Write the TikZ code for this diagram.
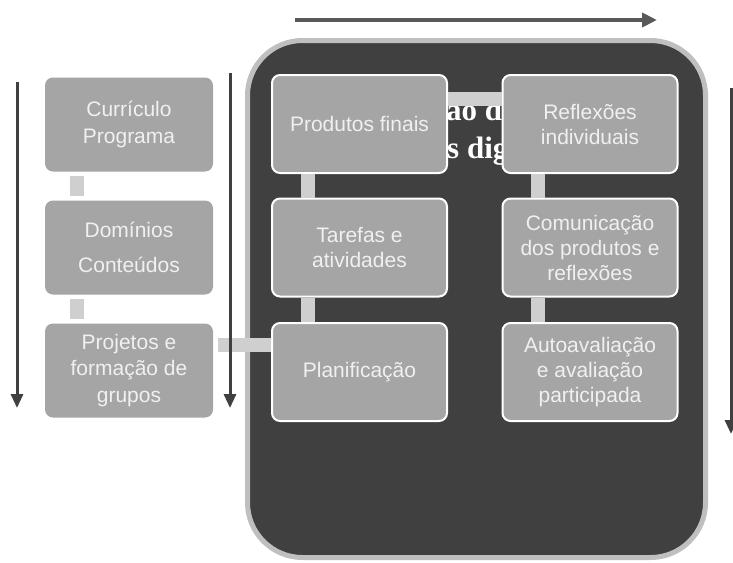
\documentclass[tikz,border=0pt]{standalone}
\usepackage{fontspec}
\setmainfont{Liberation Serif}
\setsansfont{Liberation Sans}
\usetikzlibrary{arrows.meta}

\definecolor{panel}{HTML}{404040}
\definecolor{panelrim}{HTML}{BFBFBF}
\definecolor{boxgray}{HTML}{A5A5A5}
\definecolor{linkgray}{HTML}{CFCFCF}
\definecolor{arrowdark}{HTML}{404040}
\definecolor{arrowmid}{HTML}{595959}

\begin{document}
\begin{tikzpicture}[x=1pt,y=-1pt,
  stage/.style={rectangle,rounded corners=8pt,fill=boxgray,draw=white,line width=2pt,
    minimum width=175pt,minimum height=98pt,inner sep=2pt,align=center,
    text=white!94!black,font=\sffamily\fontsize{21}{25}\selectfont},
  prep/.style={stage,draw=none,minimum width=168pt,minimum height=94pt,
    font=\sffamily\fontsize{21}{26.5}\selectfont},
  link/.style={draw=linkgray,line width=14pt},
  veil/.style={text=white,inner sep=0pt,font=\bfseries\fontsize{31}{36}\selectfont},
  flow/.style={draw=arrowdark,line width=3pt,-{Triangle[length=14pt,width=12pt]}}]
\useasboundingbox (0,0) rectangle (733,562);

% dark panel behind the project cycle
\draw[panelrim,fill=panel,line width=5pt,rounded corners=55pt] (247.5,40.5) rectangle (705.5,557.5);

% panel title, left visible between the top boxes
\node[veil,anchor=base west] (titleA) at (446,120) {ão d};
\node[veil,anchor=base west] (titleB) at (447,158) {s dig};

% preparation column
\node[prep] (curriculo) at (129,124.5) {Currículo\\Programa};
\node[prep] (dominios) at (129,247.5) {Domínios\\[9pt]Conteúdos};
\node[prep] (projetos) at (129,370.5) {Projetos e\\formação de\\grupos};

% project cycle
\node[stage] (produtos) at (359.5,124) {Produtos finais};
\node[stage] (tarefas) at (359.5,247.5) {Tarefas e\\atividades};
\node[stage] (planificacao) at (359.5,372) {Planificação};
\node[stage] (reflexoes) at (590,124) {Reflexões\\individuais};
\node[stage] (comunicacao) at (590,247.5) {Comunicação\\dos produtos e\\reflexões};
\node[stage] (autoavaliacao) at (590,372) {Autoavaliação\\e avaliação\\participada};

% links
\draw[link,shorten <=3pt,shorten >=4pt] ([xshift=-52pt]curriculo.south) -- ([xshift=-52pt]dominios.north);
\draw[link,shorten <=3pt,shorten >=4pt] ([xshift=-52pt]dominios.south) -- ([xshift=-52pt]projetos.north);
\draw[link,shorten <=4pt] ([yshift=25.5pt]projetos.east) -- ([yshift=25.5pt]projetos.east -| planificacao.west);
\draw[link] ([xshift=-51.5pt]planificacao.north) -- ([xshift=-51.5pt]tarefas.south);
\draw[link] ([xshift=-51.5pt]tarefas.north) -- ([xshift=-51.5pt]produtos.south);
\draw[link] ([yshift=25pt]produtos.east) -- ([yshift=25pt]reflexoes.west);
\draw[link] ([xshift=-52pt]reflexoes.south) -- ([xshift=-52pt]comunicacao.north);
\draw[link] ([xshift=-52pt]comunicacao.south) -- ([xshift=-52pt]autoavaliacao.north);

% direction arrows
\coordinate (leftA) at (17,82);
\coordinate (leftB) at (17,408);
\coordinate (midA) at (230,73);
\coordinate (midB) at (230,408);
\coordinate (rightA) at (731,88);
\coordinate (rightB) at (731,434);
\coordinate (topA) at (295,20);
\coordinate (topB) at (657,20);
\draw[flow] (leftA) -- (leftB);
\draw[flow] (midA) -- (midB);
\draw[flow] (rightA) -- (rightB);
\draw[flow,draw=arrowmid,line width=4pt,-{Triangle[length=15pt,width=14pt]}] (topA) -- (topB);
\end{tikzpicture}
\end{document}
